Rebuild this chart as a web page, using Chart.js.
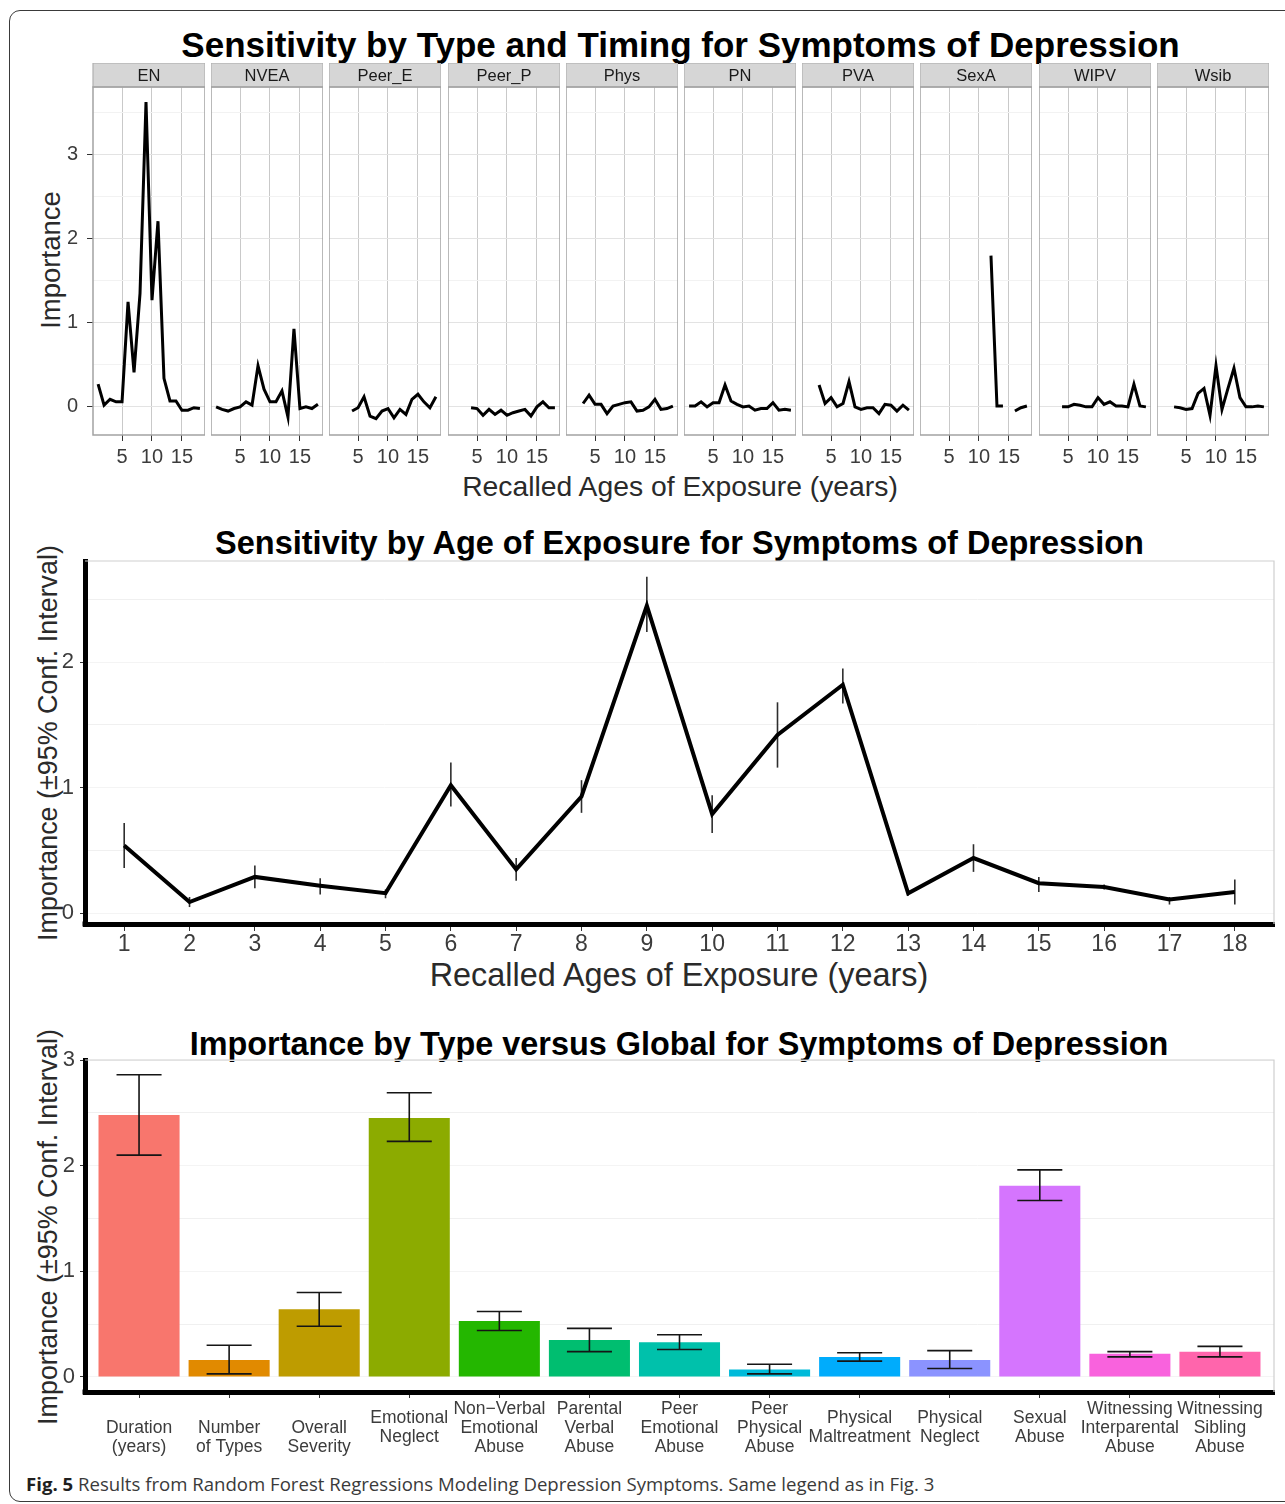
<!DOCTYPE html>
<html>
<head>
<meta charset="utf-8">
<script src="https://cdn.jsdelivr.net/npm/chart.js@4.4.1/dist/chart.umd.min.js"></script>
<style>
  html, body { margin:0; padding:0; background:#fff; }
  body { position:relative; width:1285px; height:1504px; overflow:hidden; font-family:'Liberation Sans', Arial, Helvetica, sans-serif; }
  canvas { position:absolute; }
  .txt { position:absolute; white-space:nowrap; line-height:1; }
  #frame { position:absolute; left:9px; top:10px; width:1310px; height:1492px; border:1.5px solid #3a3a3a; border-radius:11px; box-sizing:border-box; }
  #caption { position:absolute; left:26px; white-space:nowrap; font-family:'Open Sans', 'Noto Sans', sans-serif; font-size:18.6px; line-height:1; color:#3a3a3a; }
  #caption b { color:#1f1f1f; font-weight:700; }
</style>
</head>
<body>
<div id="frame"></div>
<div id="caption"><b>Fig. 5</b> Results from Random Forest Regressions Modeling Depression Symptoms. Same legend as in Fig. 3</div>
<script>
// ================= DATA =================
const ages = [1,2,3,4,5,6,7,8,9,10,11,12,13,14,15,16,17,18];

// Panel 1: importance by type and recalled age (facets)
const facetNames = ['EN','NVEA','Peer_E','Peer_P','Phys','PN','PVA','SexA','WIPV','Wsib'];
const EN     = [0.26,0.01,0.08,0.05,0.05,1.24,0.40,1.34,3.62,1.26,2.20,0.33,0.06,0.06,-0.05,-0.05,-0.02,-0.03];
const NVEA   = [-0.01,-0.04,-0.06,-0.03,-0.01,0.05,0.01,0.48,0.20,0.05,0.05,0.18,-0.13,0.92,-0.03,-0.01,-0.03,0.02];
const Peer_E = [null,null,null,-0.06,-0.02,0.11,-0.12,-0.15,-0.06,-0.03,-0.14,-0.04,-0.10,0.08,0.14,0.05,-0.02,0.11];
const Peer_P = [null,null,null,-0.02,-0.03,-0.11,-0.04,-0.10,-0.05,-0.11,-0.08,-0.06,-0.04,-0.12,-0.01,0.05,-0.02,-0.02];
const Phys   = [null,null,0.03,0.13,0.02,0.02,-0.09,0.00,0.02,0.04,0.05,-0.06,-0.05,-0.01,0.08,-0.04,-0.03,0.00];
const PN     = [0.00,0.00,0.05,-0.01,0.04,0.04,0.25,0.06,0.02,-0.01,0.00,-0.05,-0.03,-0.03,0.04,-0.05,-0.04,-0.05];
const PVA    = [null,null,0.25,0.03,0.10,-0.01,0.03,0.29,-0.01,-0.04,-0.02,-0.02,-0.09,0.02,0.01,-0.06,0.01,-0.05];
const SexA   = [null,null,null,null,null,null,null,null,null,null,null,1.79,0.00,0.00,null,-0.06,-0.02,0.00];
const WIPV   = [null,null,null,-0.01,-0.01,0.02,0.01,-0.01,-0.01,0.10,0.02,0.05,0.00,0.00,-0.01,0.26,0.00,-0.01];
const Wsib   = [null,null,-0.01,-0.02,-0.04,-0.03,0.15,0.21,-0.11,0.48,-0.04,0.21,0.45,0.10,-0.01,-0.01,0.00,-0.01];
const facetSeries = [EN, NVEA, Peer_E, Peer_P, Phys, PN, PVA, SexA, WIPV, Wsib];
const facetXTicks = [5, 10, 15];
const facetYMajor = [0, 1, 2, 3];
const facetYMinor = [0.5, 1.5, 2.5, 3.5];

// Panel 2: importance by age of exposure (±95% CI)
const ageImportance = [0.54,0.09,0.29,0.22,0.16,1.02,0.35,0.93,2.45,0.79,1.42,1.82,0.16,0.44,0.24,0.21,0.11,0.17];
const ageLower      = [0.36,0.05,0.20,0.15,0.12,0.85,0.26,0.80,2.24,0.64,1.16,1.67,0.14,0.33,0.17,0.19,0.07,0.07];
const ageUpper      = [0.72,0.13,0.38,0.28,0.19,1.20,0.44,1.06,2.68,0.94,1.68,1.95,0.17,0.55,0.29,0.23,0.13,0.27];
const ageYMajor = [0, 1, 2];
const ageYMinor = [0.5, 1.5, 2.5];

// Panel 3: importance by type vs global (±95% CI)
const typeLabels = [
  ['', 'Duration', '(years)'],
  ['', 'Number', 'of Types'],
  ['', 'Overall', 'Severity'],
  ['Emotional', 'Neglect'],
  ['Non\u2212Verbal', 'Emotional', 'Abuse'],
  ['Parental', 'Verbal', 'Abuse'],
  ['Peer', 'Emotional', 'Abuse'],
  ['Peer', 'Physical', 'Abuse'],
  ['Physical', 'Maltreatment'],
  ['Physical', 'Neglect'],
  ['Sexual', 'Abuse'],
  ['Witnessing', 'Interparental', 'Abuse'],
  ['Witnessing', 'Sibling', 'Abuse']
];
const typeImportance = [2.48,0.16,0.64,2.45,0.53,0.35,0.33,0.07,0.19,0.16,1.81,0.22,0.24];
const typeLower      = [2.10,0.03,0.48,2.23,0.44,0.24,0.26,0.03,0.15,0.08,1.67,0.19,0.19];
const typeUpper      = [2.86,0.30,0.80,2.69,0.62,0.46,0.40,0.12,0.23,0.25,1.96,0.24,0.29];
const typeColors = ['#F8766D','#E18A00','#BE9C00','#8CAB00','#24B700','#00BE70','#00C1AB','#00BBDA','#00ACFC','#8B93FF','#D575FE','#F962DD','#FF65AC'];
const typeYMajor = [0, 1, 2, 3];
const typeYMinor = [0.5, 1.5, 2.5];

// ================= HELPERS =================
Chart.defaults.font.family = "'Liberation Sans', Arial, Helvetica, sans-serif";
Chart.defaults.animation = false;

const FONT_BASE = 0.8465; // baseline offset (em) for Liberation Sans with line-height 1

function addText(txt, o) {
  const d = document.createElement('div');
  d.className = 'txt';
  d.textContent = txt;
  d.style.fontSize = o.size + 'px';
  d.style.fontWeight = o.bold ? '700' : '400';
  d.style.color = o.color || '#000';
  if (o.rotate) {
    d.style.left = o.cx + 'px';
    d.style.top = o.cy + 'px';
    d.style.transform = 'translate(-50%,-50%) rotate(-90deg)';
  } else {
    d.style.left = o.cx + 'px';
    d.style.top = (o.baseline - FONT_BASE * o.size) + 'px';
    d.style.transform = 'translateX(-50%)';
  }
  document.body.appendChild(d);
}

function makeCanvas(left, top, w, h) {
  const c = document.createElement('canvas');
  c.width = w; c.height = h;
  c.style.left = left + 'px'; c.style.top = top + 'px';
  c.style.width = w + 'px'; c.style.height = h + 'px';
  document.body.appendChild(c);
  return c.getContext('2d');
}

const panelBox = {
  id: 'panelBox',
  afterDraw(chart, args, opts) {
    if (!opts || !opts.color) return;
    const a = chart.chartArea, ctx = chart.ctx;
    ctx.save();
    ctx.strokeStyle = opts.color;
    ctx.lineWidth = opts.width || 1;
    ctx.beginPath();
    if (opts.sides === 'all') {
      ctx.rect(a.left, a.top, a.right - a.left, a.bottom - a.top);
    } else {
      ctx.moveTo(a.left, a.top); ctx.lineTo(a.right, a.top); ctx.lineTo(a.right, a.bottom);
    }
    ctx.stroke();
    if (opts.corner) {
      // close the corner where the two thick axis lines meet
      ctx.fillStyle = opts.corner;
      ctx.fillRect(a.left - 2.5, a.bottom - 2.5, 5, 5);
    }
    ctx.restore();
  }
};

const stripPlugin = {
  id: 'strip',
  afterDraw(chart, args, opts) {
    if (!opts || !opts.text) return;
    const a = chart.chartArea, ctx = chart.ctx;
    const h = opts.height;
    ctx.save();
    ctx.fillStyle = opts.bg;
    ctx.fillRect(a.left, a.top - h, a.right - a.left, h);
    ctx.strokeStyle = opts.border;
    ctx.lineWidth = 1.2;
    ctx.strokeRect(a.left, a.top - h, a.right - a.left, h);
    ctx.fillStyle = opts.color;
    ctx.font = opts.size + "px 'Liberation Sans', Arial, sans-serif";
    ctx.textAlign = 'center';
    ctx.textBaseline = 'middle';
    ctx.fillText(opts.text, (a.left + a.right) / 2, a.top - h / 2 + 1);
    ctx.restore();
  }
};

function drawErrorBars(chart, opts) {
  const ctx = chart.ctx;
  chart.data.datasets.forEach((ds, di) => {
    if (!ds.errLo || !ds.errHi) return;
    const meta = chart.getDatasetMeta(di);
    const xs = chart.scales[meta.xAxisID], ys = chart.scales[meta.yAxisID];
    ctx.save();
    ctx.strokeStyle = opts.color;
    ctx.lineWidth = opts.width;
    ds.data.forEach((p, i) => {
      const x = xs.getPixelForValue(p.x);
      const yLo = ys.getPixelForValue(ds.errLo[i]);
      const yHi = ys.getPixelForValue(ds.errHi[i]);
      ctx.beginPath();
      ctx.moveTo(x, yLo); ctx.lineTo(x, yHi);
      if (opts.cap) {
        const xl = xs.getPixelForValue(p.x - opts.cap), xr = xs.getPixelForValue(p.x + opts.cap);
        ctx.moveTo(xl, yLo); ctx.lineTo(xr, yLo);
        ctx.moveTo(xl, yHi); ctx.lineTo(xr, yHi);
      }
      ctx.stroke();
    });
    ctx.restore();
  });
}
const errorBars = {
  id: 'errorBars',
  beforeDatasetsDraw(chart, args, opts) { if (opts && opts.layer === 'below') drawErrorBars(chart, opts); },
  afterDatasetsDraw(chart, args, opts) { if (opts && opts.layer === 'above') drawErrorBars(chart, opts); }
};

const TICK_COLOR = '#3c3c3c';

// ================= TEXT =================
addText('Sensitivity by Type and Timing for Symptoms of Depression', {size:35, bold:true, cx:680.5, baseline:56.5});
addText('Recalled Ages of Exposure (years)', {size:28.3, cx:680, baseline:496, color:'#2a2a2a'});
addText('Importance', {size:27.5, rotate:true, cx:50.5, cy:260, color:'#2a2a2a'});

addText('Sensitivity by Age of Exposure for Symptoms of Depression', {size:32.5, bold:true, cx:679.5, baseline:555});
addText('Recalled Ages of Exposure (years)', {size:32.4, cx:679, baseline:986, color:'#2a2a2a'});
addText('Importance (\u00b195% Conf. Interval)', {size:26.9, rotate:true, cx:48, cy:742.5, color:'#2a2a2a'});

addText('Importance by Type versus Global for Symptoms of Depression', {size:32.4, bold:true, cx:679, baseline:1055});
addText('Importance (\u00b195% Conf. Interval)', {size:26.9, rotate:true, cx:47.5, cy:1226.5, color:'#2a2a2a'});

document.getElementById('caption').style.top = (1492 - 0.888 * 18.6) + 'px';

// ================= PANEL 1: FACETS =================
const F = { left0: 93, step: 118.2, width: 112, stripTop: 63, stripH: 24, panelBottom: 435, axisH: 40 };
const facetYTicks = [...facetYMajor, ...facetYMinor].sort((a, b) => a - b);

facetNames.forEach((name, i) => {
  const first = i === 0;
  const panelLeft = Math.round(F.left0 + i * F.step);
  const yAxisW = first ? panelLeft : 0;
  const canvasLeft = panelLeft - yAxisW;
  const h = F.panelBottom - F.stripTop + F.axisH;
  const ctx = makeCanvas(canvasLeft, F.stripTop, yAxisW + F.width, h);
  new Chart(ctx, {
    type: 'line',
    data: {
      datasets: [{
        data: ages.map((a, k) => ({ x: a, y: facetSeries[i][k] })),
        borderColor: '#000',
        borderWidth: 3,
        pointRadius: 0,
        tension: 0,
        spanGaps: false
      }]
    },
    options: {
      responsive: false,
      layout: { padding: { top: F.stripH, left: 0, right: 0, bottom: 0 } },
      plugins: {
        legend: { display: false }, tooltip: { enabled: false },
        strip: { text: name, height: F.stripH, bg: '#d6d6d6', border: '#b0b0b0', color: '#1a1a1a', size: 16.5 },
        panelBox: { color: '#a3a3a3', width: 1.5, sides: 'all' }
      },
      scales: {
        x: {
          type: 'linear', min: 0.15, max: 18.85,
          afterBuildTicks: s => { s.ticks = facetXTicks.map(v => ({ value: v })); },
          afterFit: s => { s.height = F.axisH; },
          grid: { color: '#c9c9c9', lineWidth: 1, tickColor: '#333', tickLength: 6 },
          border: { display: false },
          ticks: { color: TICK_COLOR, font: { size: 20 }, padding: 4, maxRotation: 0, autoSkip: false }
        },
        y: {
          type: 'linear', min: -0.345, max: 3.798,
          afterBuildTicks: s => { s.ticks = facetYTicks.map(v => ({ value: v })); },
          afterFit: s => { s.width = yAxisW; },
          grid: {
            color: c => (c.tick && facetYMajor.includes(c.tick.value)) ? '#e3e3e3' : '#f2f2f2',
            tickColor: c => (c.tick && facetYMajor.includes(c.tick.value)) ? '#333' : 'rgba(0,0,0,0)',
            drawTicks: first, tickLength: 6
          },
          border: { display: false },
          ticks: {
            display: first, color: TICK_COLOR, font: { size: 20 }, padding: 9,
            callback: v => facetYMajor.includes(v) ? String(v) : ''
          }
        }
      }
    },
    plugins: [stripPlugin, panelBox]
  });
});

// ================= PANEL 2: AGE OF EXPOSURE =================
(function () {
  const top = 531, areaTop = 561, areaBottom = 924, axisH = 45;
  const ctx = makeCanvas(0, top, 1285, areaBottom - top + axisH);
  const yTicks = [...ageYMajor, ...ageYMinor].sort((a, b) => a - b);
  new Chart(ctx, {
    type: 'line',
    data: {
      datasets: [{
        data: ages.map((a, k) => ({ x: a, y: ageImportance[k] })),
        errLo: ageLower, errHi: ageUpper,
        borderColor: '#000', borderWidth: 4, pointRadius: 0, tension: 0
      }]
    },
    options: {
      responsive: false,
      layout: { padding: { top: areaTop - top, right: 11, left: 0, bottom: 0 } },
      plugins: {
        legend: { display: false }, tooltip: { enabled: false },
        panelBox: { color: '#cfcfcf', width: 1.2, sides: 'topright', corner: '#000' },
        errorBars: { color: '#2e2e2e', width: 1.6, cap: 0, layer: 'below' }
      },
      scales: {
        x: {
          type: 'linear', min: 0.4, max: 18.6,
          afterBuildTicks: s => { s.ticks = ages.map(v => ({ value: v })); },
          afterFit: s => { s.height = axisH; },
          grid: { drawOnChartArea: false, tickColor: '#333', tickLength: 7 },
          border: { display: true, color: '#000', width: 5 },
          ticks: { color: TICK_COLOR, font: { size: 23 }, padding: 0, maxRotation: 0, autoSkip: false }
        },
        y: {
          type: 'linear', min: -0.085, max: 2.805,
          afterBuildTicks: s => { s.ticks = yTicks.map(v => ({ value: v })); },
          afterFit: s => { s.width = 85; },
          grid: {
            color: c => (c.tick && ageYMajor.includes(c.tick.value)) ? '#f4f4f4' : '#f0f0f0',
            tickColor: c => (c.tick && ageYMajor.includes(c.tick.value)) ? '#333' : 'rgba(0,0,0,0)',
            tickLength: 5
          },
          border: { display: true, color: '#000', width: 5 },
          ticks: { color: TICK_COLOR, font: { size: 22 }, padding: 6, callback: v => ageYMajor.includes(v) ? String(v) : '' }
        }
      }
    },
    plugins: [panelBox, errorBars]
  });
})();

// ================= PANEL 3: TYPE VS GLOBAL =================
(function () {
  const top = 1030, areaTop = 1060, areaBottom = 1392, axisH = 75;
  const ctx = makeCanvas(0, top, 1285, areaBottom - top + axisH);
  const yTicks = [...typeYMajor, ...typeYMinor].sort((a, b) => a - b);
  const idx = typeImportance.map((_, k) => k);
  new Chart(ctx, {
    type: 'bar',
    data: {
      datasets: [{
        data: idx.map(k => ({ x: k, y: typeImportance[k] })),
        errLo: typeLower, errHi: typeUpper,
        backgroundColor: typeColors,
        borderWidth: 0,
        barPercentage: 0.9,
        categoryPercentage: 1.0
      }]
    },
    options: {
      responsive: false,
      layout: { padding: { top: areaTop - top, right: 11, left: 0, bottom: 0 } },
      plugins: {
        legend: { display: false }, tooltip: { enabled: false },
        panelBox: { color: '#cfcfcf', width: 1.2, sides: 'topright', corner: '#000' },
        errorBars: { color: '#151515', width: 1.6, cap: 0.25, layer: 'above' }
      },
      scales: {
        x: {
          type: 'linear', min: -0.6, max: 12.6, offset: false,
          afterBuildTicks: s => { s.ticks = idx.map(v => ({ value: v })); },
          afterFit: s => { s.height = axisH; },
          grid: { drawOnChartArea: false, offset: false, tickColor: '#333', tickLength: 6 },
          border: { display: true, color: '#000', width: 5 },
          ticks: {
            color: TICK_COLOR, font: { size: 17.5, lineHeight: 1.086 }, padding: 11,
            maxRotation: 0, autoSkip: false, crossAlign: 'center',
            callback: v => typeLabels[v]
          }
        },
        y: {
          type: 'linear', min: -0.142, max: 3.0,
          afterBuildTicks: s => { s.ticks = yTicks.map(v => ({ value: v })); },
          afterFit: s => { s.width = 85; },
          grid: {
            color: c => (c.tick && typeYMajor.includes(c.tick.value)) ? '#f4f4f4' : '#f0f0f0',
            tickColor: c => (c.tick && typeYMajor.includes(c.tick.value)) ? '#333' : 'rgba(0,0,0,0)',
            tickLength: 5
          },
          border: { display: true, color: '#000', width: 5 },
          ticks: { color: TICK_COLOR, font: { size: 22 }, padding: 5, callback: v => typeYMajor.includes(v) ? String(v) : '' }
        }
      }
    },
    plugins: [panelBox, errorBars]
  });
})();
</script>
</body>
</html>
